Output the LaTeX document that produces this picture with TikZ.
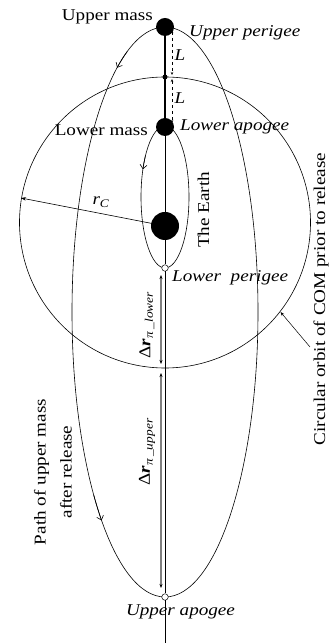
\documentclass[tikz,border=0pt]{standalone}
\usepackage{fontspec}
\setmainfont{Liberation Serif}
\usepackage{graphicx}
\usetikzlibrary{arrows.meta,calc}
\newcommand\lbl[1]{\scalebox{1.16}[1]{#1}}
\begin{document}
\begin{tikzpicture}[x=1pt,y=1pt,
  txt/.style={inner sep=0pt, font=\fontsize{16.5}{26}\selectfont},
  itx/.style={txt, font=\fontsize{16.5}{26}\selectfont\itshape},
  orbit/.style={line width=0.6pt},
  dirmark/.style={line width=0.6pt, -{Straight Barb[length=4pt,width=7pt]}},
  dimarrow/.style={line width=0.5pt, dashed, {Stealth[length=3pt,width=2.5pt]}-{Stealth[length=3pt,width=2.5pt]}},
  deltaarrow/.style={draw=gray, line width=1.1pt, {Stealth[length=4pt,width=3pt,black]}-{Stealth[length=4pt,width=3pt,black]}},
  opendot/.style={circle, draw, fill=white, line width=0.5pt, minimum size=6.5pt, inner sep=0pt},
  mass/.style={circle, fill=black, inner sep=0pt}]
\fill[white] (0,0) rectangle (331,643);
\useasboundingbox (0,0) rectangle (331,643);

% orbits
\draw[orbit] (165,420.5) circle[radius=145.5pt];
\draw[orbit] (165,331) ellipse[x radius=93pt, y radius=285pt];
\draw[orbit] (165,446) ellipse[x radius=24pt, y radius=71pt];

% direction marks
\draw[dirmark] ($(165,331)+(114:93pt and 285pt)$) arc[start angle=114, end angle=121, x radius=93pt, y radius=285pt];
\draw[dirmark] ($(165,331)+(220:93pt and 285pt)$) arc[start angle=220, end angle=227, x radius=93pt, y radius=285pt];
\draw[dirmark] ($(165,446)+(145:24pt and 71pt)$) arc[start angle=145, end angle=157, x radius=24pt, y radius=71pt];

% nodes on axis
\node[mass, minimum size=18pt] (upper) at (165,616) {};
\node[mass, minimum size=5pt] (mid) at (165,566) {};
\node[mass, minimum size=18pt] (lower) at (165,516) {};
\node[mass, minimum size=28pt] (earth) at (165,417) {};
\node[opendot] (lperi) at (165,375) {};
\node[opendot] (uapo) at (165,46) {};
\coordinate (bottom) at (165,0);

% axis
\draw[line width=2.4pt] (upper) -- (lower);
\draw[line width=0.6pt] (lower) -- (earth) -- (lperi) -- (uapo) -- (bottom);

% L dimensions
\coordinate (l1a) at (172,613);
\coordinate (l1b) at (172,568);
\coordinate (l2a) at (172,564);
\coordinate (l2b) at (172,520);
\draw[dimarrow] (l1a) -- (l1b);
\draw[dimarrow] (l2a) -- (l2b);
\node[itx] (L1) at (180,588) {\lbl{L}};
\node[itx] (L2) at (180,545) {\lbl{L}};

% radius
\coordinate (rc) at (21,445);
\draw[line width=0.6pt, -{Stealth[length=5pt,width=3.5pt]}] (earth.center) -- (rc);
\node[itx] (rclabel) at (101,441) {\lbl{r\textsubscript{C}}};

% delta r arrows
\coordinate (dl1) at (161,368);
\coordinate (dl2) at (161,279);
\coordinate (du1) at (161,270);
\coordinate (du2) at (161,55);
\draw[deltaarrow] (dl1) -- (dl2);
\draw[deltaarrow] (du1) -- (du2);
\node[txt, rotate=90] (drlow) at (147,318) {\lbl{Δ\textbf{\textit{r}}\textsubscript{\textit{π}\,\textit{\_lower}}}};
\node[txt, rotate=90] (drup) at (147,191) {\lbl{Δ\textbf{\textit{r}}\textsubscript{\textit{π}\,\textit{\_upper}}}};

% labels
\node[txt, anchor=east] (ulab) at (153,626) {\lbl{Upper mass}};
\node[itx, anchor=west] (uperi) at (189,610) {\lbl{Upper perigee}};
\node[txt, anchor=east] (llab) at (148,513) {\lbl{Lower mass}};
\node[itx, anchor=west] (lapo) at (180,516) {\lbl{Lower apogee}};
\node[txt, rotate=90] (earthlab) at (203.5,433) {\lbl{The Earth}};
\node[itx, anchor=west] (lperilab) at (172,365) {\lbl{Lower\ \ perigee}};
\node[itx] (uapolab) at (180.5,31) {\lbl{Upper apogee}};
\node[txt, rotate=90] (circlab) at (321,344) {\lbl{Circular orbit of COM prior to release}};
\node[txt, rotate=90, align=center] (pathlab) at (53,171) {\lbl{Path of upper mass}\\\lbl{after release}};

% pointer to circle
\coordinate (cpt) at (280.5,331);
\coordinate (cstart) at (310,296);
\draw[line width=0.5pt, -{Stealth[length=4pt,width=3pt]}] (cstart) -- (cpt);
\end{tikzpicture}
\end{document}
